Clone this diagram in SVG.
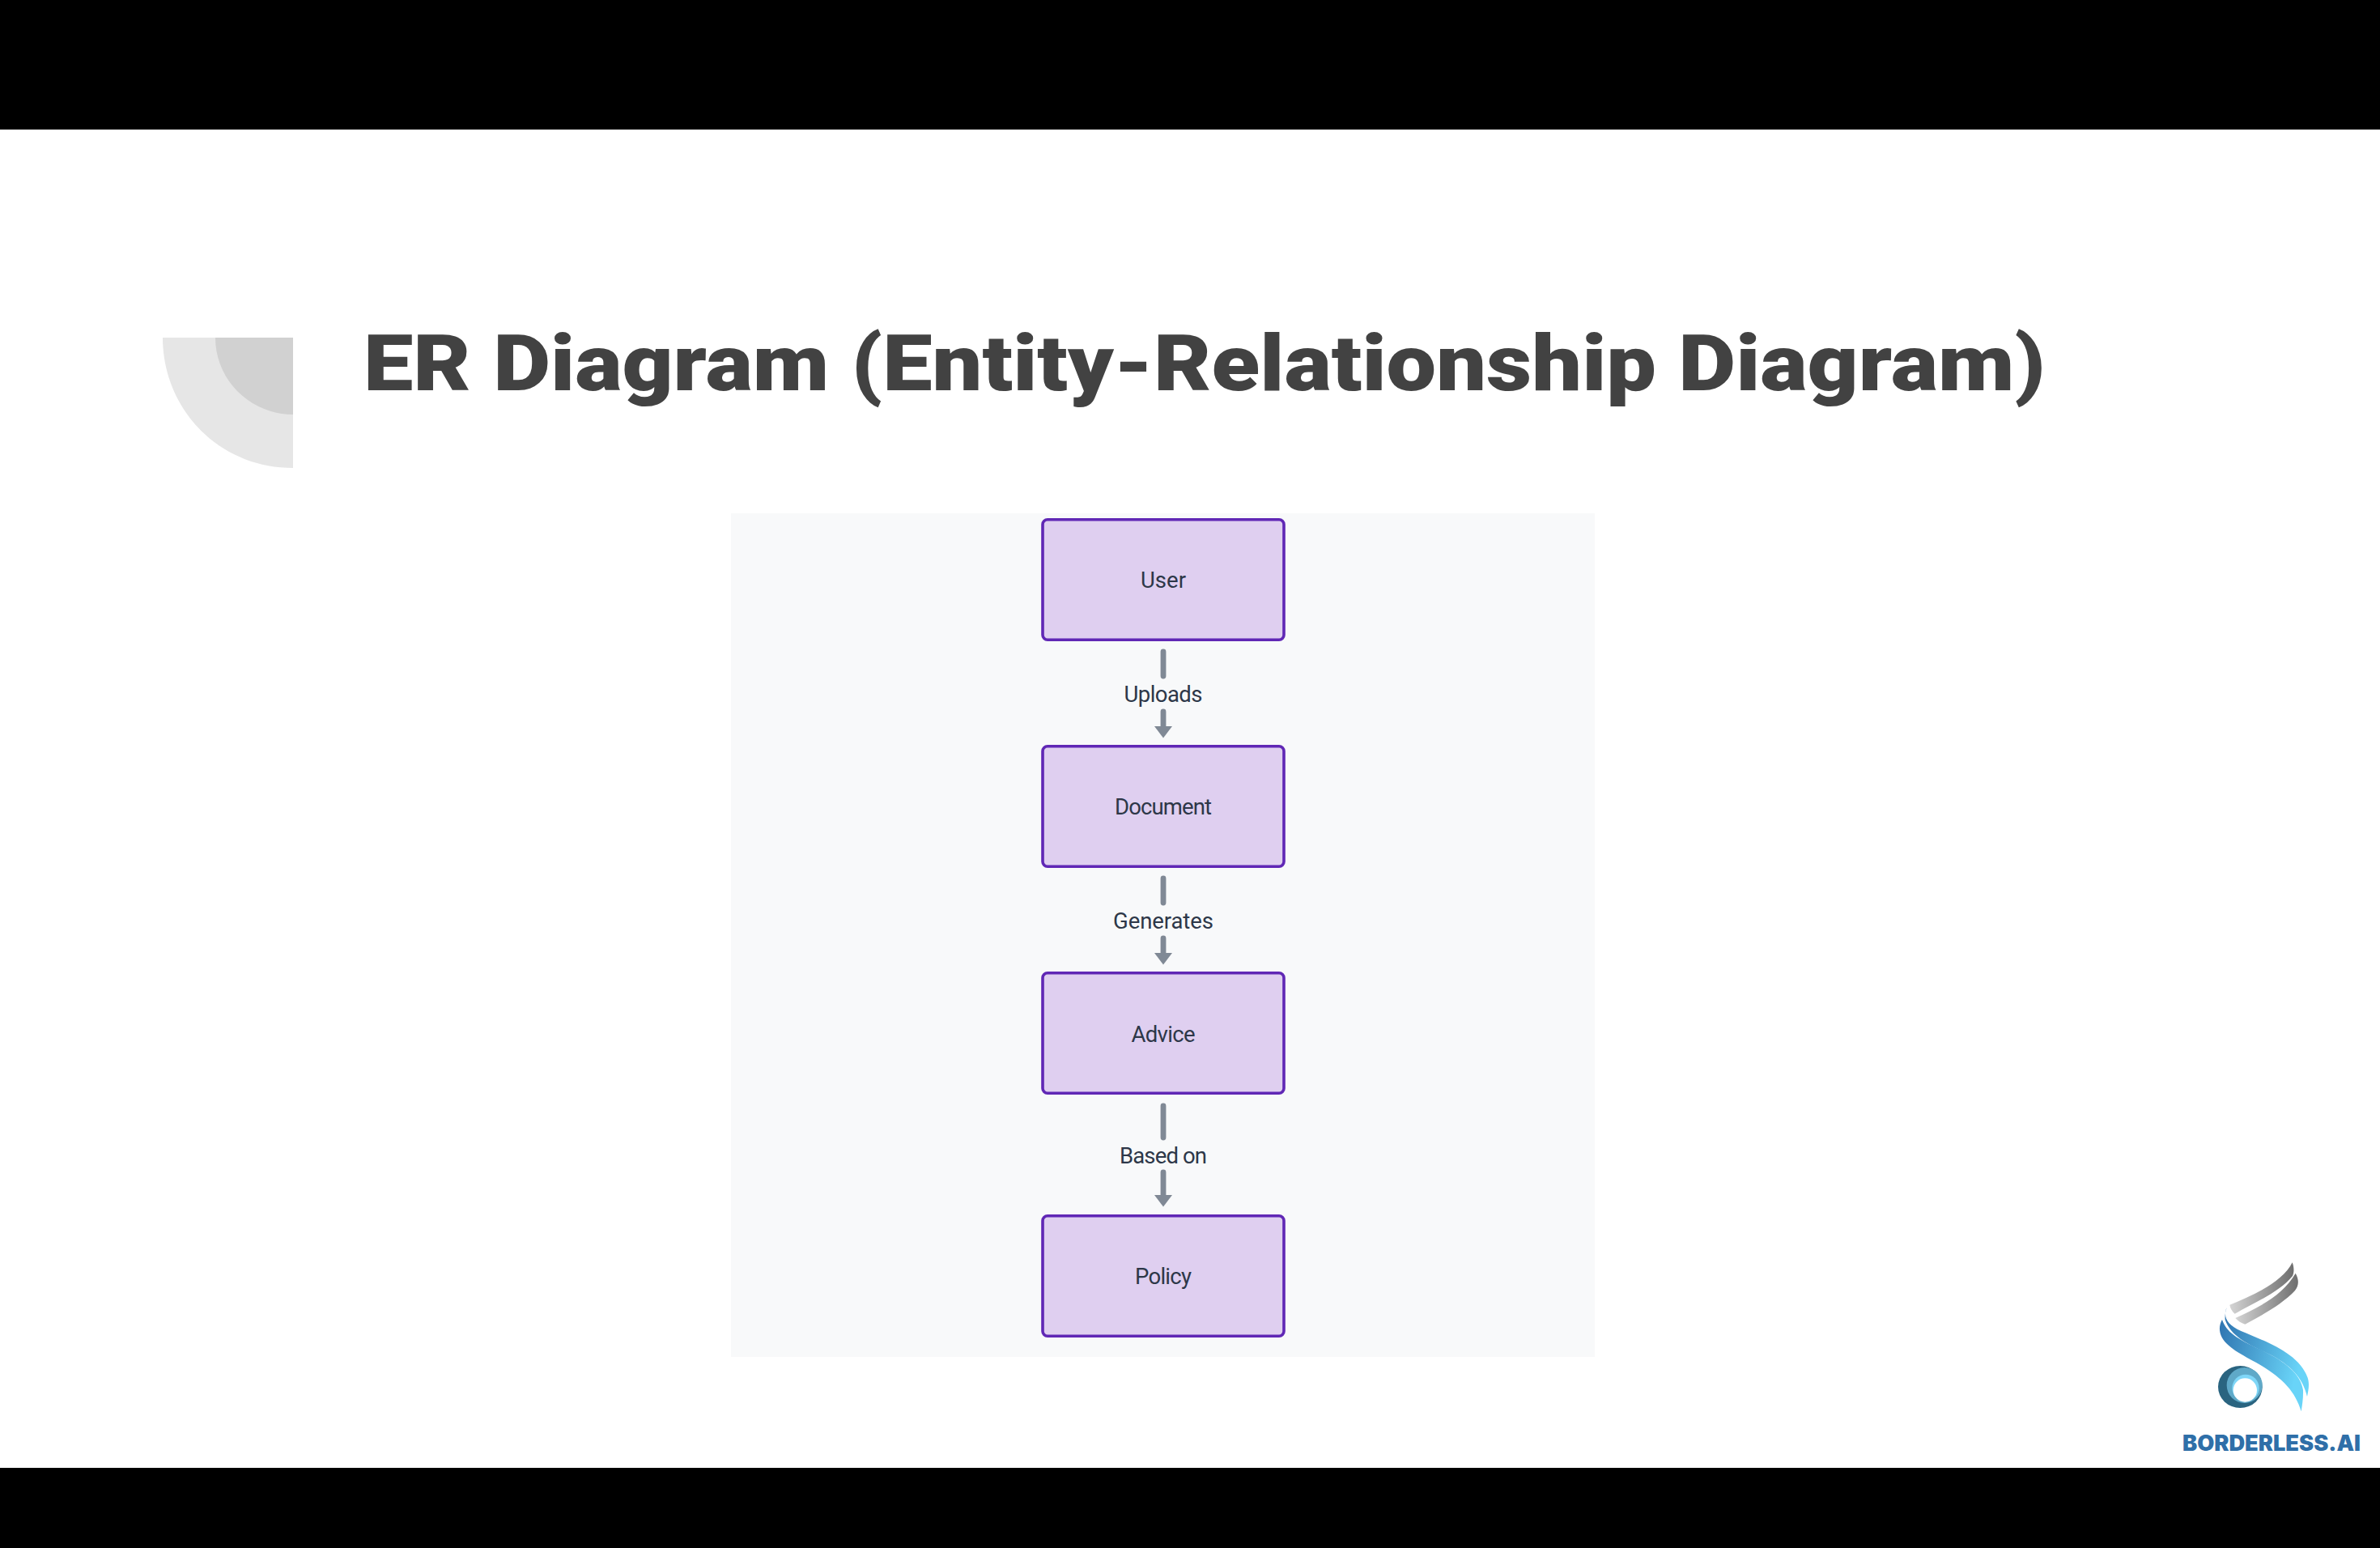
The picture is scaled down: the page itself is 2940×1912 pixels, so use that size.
<svg xmlns="http://www.w3.org/2000/svg" width="2940" height="1912" viewBox="0 0 2940 1912">
<style>
.bar{fill:#000}
.node rect{fill:#dfcff0;stroke:#6027b5;stroke-width:3.6}
.t{font-family:"Roboto","Liberation Sans",sans-serif;font-size:27.5px;fill:#2d3748;text-anchor:middle}
.edge{stroke:#808995;stroke-width:6.8;stroke-linecap:round;fill:none}
</style>
<defs>
<marker id="arrow" viewBox="0 0 14.5 22" refX="0" refY="11" markerWidth="14.5" markerHeight="22" markerUnits="userSpaceOnUse" orient="auto"><path d="M0,0 L14.5,11 L0,22 Z" fill="#808995"/></marker>
<linearGradient id="gray" x1="0" y1="0" x2="1" y2="0"><stop offset="0" stop-color="#d4d4d4"/><stop offset="1" stop-color="#6e6e6e"/></linearGradient>
<linearGradient id="blue" x1="0" y1="0" x2="1" y2="0.25"><stop offset="0" stop-color="#2f74b0"/><stop offset="1" stop-color="#69d4f8"/></linearGradient>
</defs>
<rect width="2940" height="1912" fill="#fff"/>
<rect class="bar" width="2940" height="160"/>
<rect class="bar" y="1813" width="2940" height="99"/>
<path d="M201,417 H362 V578 C270,578 201,505 201,417 Z" fill="#e6e6e6"/>
<path d="M266,417 H362 V512 C310,512 266,470 266,417 Z" fill="#d1d1d1"/>
<text x="449" y="482" font-family="Roboto,'Liberation Sans',sans-serif" font-weight="900" font-size="97" fill="#424242" textLength="2078" lengthAdjust="spacingAndGlyphs">ER Diagram (Entity-Relationship Diagram)</text>
<rect x="903" y="634" width="1067" height="1042" fill="#f8f9fa"/>
<g id="connectors">
<line class="edge" x1="1437" y1="805" x2="1437" y2="835"/>
<line class="edge" x1="1437" y1="879" x2="1437" y2="897" marker-end="url(#arrow)"/>
<line class="edge" x1="1437" y1="1085" x2="1437" y2="1115"/>
<line class="edge" x1="1437" y1="1159" x2="1437" y2="1177" marker-end="url(#arrow)"/>
<line class="edge" x1="1437" y1="1366" x2="1437" y2="1405"/>
<line class="edge" x1="1437" y1="1448" x2="1437" y2="1476" marker-end="url(#arrow)"/>
<text class="t" x="1437" y="867" textLength="97">Uploads</text>
<text class="t" x="1437" y="1147" textLength="124">Generates</text>
<text class="t" x="1437" y="1437" textLength="108">Based on</text>
</g>
<g id="node-user" class="node"><rect x="1288" y="641.7" width="298" height="148.5" rx="6"/><text class="t" x="1437" y="726" textLength="56">User</text></g>
<g id="node-document" class="node"><rect x="1288" y="921.7" width="298" height="148.5" rx="6"/><text class="t" x="1437" y="1006" textLength="120">Document</text></g>
<g id="node-advice" class="node"><rect x="1288" y="1201.7" width="298" height="148.5" rx="6"/><text class="t" x="1437" y="1287" textLength="79">Advice</text></g>
<g id="node-policy" class="node"><rect x="1288" y="1501.7" width="298" height="148.5" rx="6"/><text class="t" x="1437" y="1586" textLength="70">Policy</text></g>
<g id="logo">
<g transform="translate(2660,1530) scale(0.33333)">
<path d="M283,245 C370,210 480,160 515,88 C522,105 522,125 516,138 C470,195 380,235 302,278 C292,270 285,258 283,245 Z" fill="url(#gray)"/>
<path d="M304,294 C390,255 480,210 527,128 C540,150 540,175 525,192 C480,240 410,280 340,317 C325,312 312,304 304,294 Z" fill="url(#gray)"/>
<path d="M272,255 C258,290 272,318 325,342 C420,382 540,425 572,515 C580,540 574,565 570,585 C555,515 505,465 430,428 C370,398 290,370 266,300 C265,285 267,270 272,255 Z" fill="url(#blue)"/>
<path d="M255,300 C270,345 310,372 400,412 C490,455 545,500 555,560 C556,590 552,615 548,640 C525,560 470,510 380,458 C320,425 260,395 248,350 C243,330 247,315 255,300 Z" fill="url(#blue)"/>
<ellipse cx="322" cy="549" rx="82" ry="78" fill="#2a6480"/>
<circle cx="338" cy="543" r="66" fill="#5fa9c8"/>
<circle cx="342" cy="553" r="50" fill="#7fd6f7"/>
<circle cx="340" cy="561" r="44" fill="#fff"/>
</g>
<text x="2696" y="1792" font-family="Inter,'Open Sans',sans-serif" font-weight="900" font-size="26.5" fill="#2f6fa8" textLength="220" lengthAdjust="spacingAndGlyphs">BORDERLESS.AI</text>
</g>
</svg>
